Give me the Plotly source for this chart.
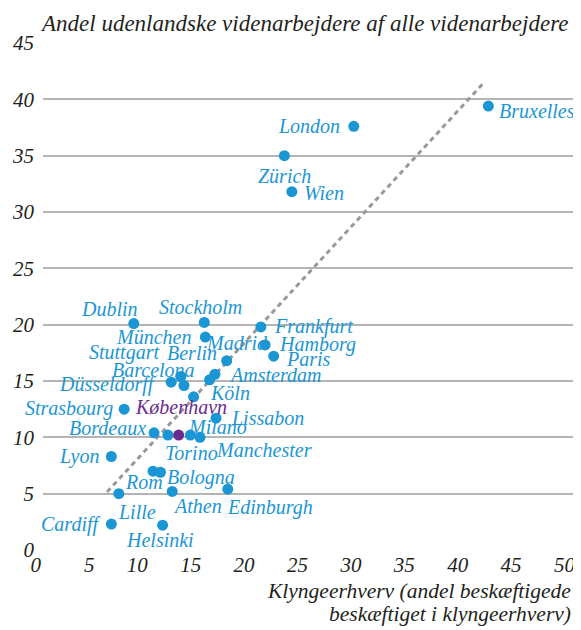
import plotly.graph_objects as go

# ---- data ----
cities = ["London", "Bruxelles", "Zürich", "Wien", "Dublin", "Stockholm", "München",
          "Frankfurt", "Hamborg", "Paris", "Madrid", "Stuttgart", "Düsseldorff",
          "Barcelona", "Amsterdam", "Berlin", "Köln", "Strasbourg", "Lissabon",
          "Bordeaux", "Torino", "København", "Milano", "Manchester", "Lyon", "Rom",
          "Bologna", "Lille", "Athen", "Edinburgh", "Cardiff", "Helsinki"]
cluster_share = [29.1, 41.7, 22.6, 23.3, 8.5, 15.1, 15.2,
                 20.4, 20.8, 21.6, 17.2, 12.9, 12.0,
                 13.2, 16.1, 15.6, 14.1, 7.6, 16.2,
                 10.4, 11.7, 12.7, 13.8, 14.7, 6.4, 10.3,
                 11.0, 7.1, 12.1, 17.3, 6.4, 11.2]
foreign_share = [37.6, 39.4, 35.0, 31.8, 20.1, 20.2, 18.9,
                 19.8, 18.2, 17.2, 16.8, 15.4, 14.9,
                 14.6, 15.6, 15.1, 13.6, 12.5, 11.7,
                 10.4, 10.2, 10.2, 10.2, 10.0, 8.3, 7.0,
                 6.9, 5.0, 5.2, 5.4, 2.3, 2.2]
trend_x = [6.0, 41.2]
trend_y = [5.15, 41.4]
x_ticks = [0, 5, 10, 15, 20, 25, 30, 35, 40, 45, 50]
y_ticks = [0, 5, 10, 15, 20, 25, 30, 35, 40, 45]
highlight = "København"

# ---- label placement (anchor, x shift px, y shift px) ----
placement = {
    "London": ("right", "middle", -12, 0),
    "Bruxelles": ("left", "middle", 9, -5),
    "Zürich": ("center", "middle", 0, -20),
    "Wien": ("left", "middle", 10, -1),
    "Dublin": ("center", "middle", -24, 15),
    "Stockholm": ("center", "middle", -4, 15),
    "München": ("right", "middle", -12, 0),
    "Frankfurt": ("left", "middle", 11, 0),
    "Hamborg": ("left", "middle", 12, 0),
    "Paris": ("left", "middle", 10, -3),
    "Madrid": ("center", "middle", 10, 18),
    "Stuttgart": ("right", "middle", -20, 24),
    "Düsseldorff": ("right", "middle", -13, -2),
    "Barcelona": ("right", "middle", 13, 16),
    "Amsterdam": ("left", "middle", 12, -1),
    "Berlin": ("right", "middle", 9, 27),
    "Köln": ("left", "middle", 14, 4),
    "Strasbourg": ("right", "middle", -9, 1),
    "Lissabon": ("left", "middle", 13, 0),
    "Bordeaux": ("right", "middle", -6, 5),
    "Torino": ("left", "middle", -5, -18),
    "København": ("center", "middle", 2, 28),
    "Milano": ("left", "middle", -4, 8),
    "Manchester": ("left", "middle", 14, -13),
    "Lyon": ("right", "middle", -10, 0),
    "Rom": ("center", "middle", -9, -11),
    "Bologna": ("left", "middle", 5, -5),
    "Lille": ("left", "middle", -3, -18),
    "Athen": ("left", "middle", -1, -15),
    "Edinburgh": ("left", "middle", -3, -18),
    "Cardiff": ("right", "middle", -9, 0),
    "Helsinki": ("center", "middle", -3, -15),
}

BLUE = "#1b96d4"
PURPLE = "#6a2b8e"
INK = "#231f20"
SERIF = "Liberation Serif, Times New Roman, serif"

colors = [PURPLE if c == highlight else BLUE for c in cities]

fig = go.Figure()
fig.add_trace(go.Scatter(
    x=trend_x, y=trend_y, mode="lines",
    line=dict(color="#999999", width=3, dash="5px,4px"),
    hoverinfo="skip", showlegend=False))
fig.add_trace(go.Scatter(
    x=cluster_share, y=foreign_share, mode="markers",
    marker=dict(color=colors, size=11, line=dict(width=0)),
    text=cities, hoverinfo="text", showlegend=False, cliponaxis=False))

for c, xv, yv in zip(cities, cluster_share, foreign_share):
    xa, ya, xs, ys = placement[c]
    fig.add_annotation(
        x=xv, y=yv, text=c, showarrow=False, xanchor=xa, yanchor=ya,
        xshift=xs, yshift=ys,
        font=dict(family=SERIF, size=20, style="italic",
                  color=PURPLE if c == highlight else BLUE))

# chart title
fig.add_annotation(
    xref="paper", yref="paper", x=0, y=1, xanchor="left", yanchor="bottom",
    xshift=-5, yshift=5, showarrow=False,
    text="Andel udenlandske videnarbejdere af alle videnarbejdere",
    font=dict(family=SERIF, size=23, style="italic", color=INK))

# x-axis title (two lines, right aligned)
for i, line in enumerate(["Klyngeerhverv (andel beskæftigede",
                          "beskæftiget i klyngeerhverv)"]):
    fig.add_annotation(
        xref="paper", yref="paper", x=1, y=0, xanchor="right", yanchor="middle",
        xshift=-4, yshift=-41 - 23 * i, showarrow=False, text=line,
        font=dict(family=SERIF, size=21.5, style="italic", color=INK))

# page body has an 8px margin, so the figure is sized to the visible area
fig.update_layout(
    width=573, height=622,
    margin=dict(l=35, r=4, t=35, b=80),
    paper_bgcolor="white", plot_bgcolor="white",
    font=dict(family=SERIF, color=INK),
    xaxis=dict(range=[0, 50], tickvals=x_ticks, showgrid=False, zeroline=False,
               showline=False, ticks="", ticklabelposition="outside left",
               ticklabelshift=-2,
               tickfont=dict(family=SERIF, size=21, style="italic", color=INK),
               fixedrange=True),
    yaxis=dict(range=[0, 45], tickvals=y_ticks, showgrid=True,
               gridcolor="#b4b4b4", gridwidth=1.5, zeroline=False,
               showline=False, ticks="", ticklabelstandoff=8,
               tickfont=dict(family=SERIF, size=21, style="italic", color=INK),
               fixedrange=True),
)

fig.write_html("out.html")
